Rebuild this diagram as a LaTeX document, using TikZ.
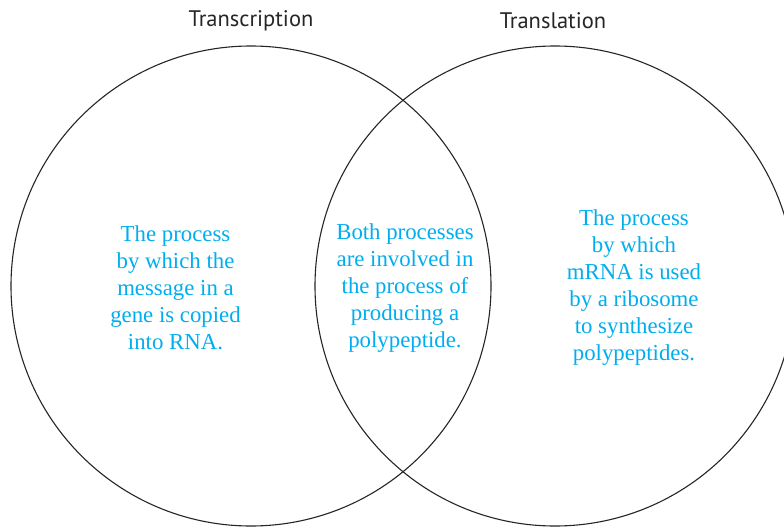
\documentclass[tikz,border=0pt]{standalone}
\usepackage{fontspec}
\setmainfont{Liberation Serif}
\newfontfamily\titlefont{PT Sans}
\definecolor{procblue}{RGB}{0,174,239}
\begin{document}
\begin{tikzpicture}[x=1pt,y=-1pt,
  ring/.style={draw=black!85, line width=1.1pt},
  title/.style={font=\titlefont\fontsize{22.5}{26}\selectfont, text=black!85, inner sep=0pt},
  body/.style={font=\fontsize{22.8}{27}\selectfont, text=procblue, align=center, inner sep=0pt}]
\useasboundingbox (0,0) rectangle (784,527);
\clip (0,0) rectangle (784,527);
\fill[white] (0,0) rectangle (784,527);
\node[ring, circle, minimum size=480pt, inner sep=0pt] (left) at (251,286) {};
\node[ring, circle, minimum size=480pt, inner sep=0pt] (right) at (555,286) {};
\node[title] (t1) at (251,21) {Transcription};
\node[title] (t2) at (553,21) {Translation};
\node[body] (a) at (175.5,288) {The process\\by which the\\message in a\\gene is copied\\into RNA.};
\node[body] (b) at (405,288) {Both processes\\are involved in\\the process of\\producing a\\polypeptide.};
\node[body] (c) at (634,287.5) {The process\\by which\\mRNA is used\\by a ribosome\\to synthesize\\polypeptides.};
\end{tikzpicture}
\end{document}
